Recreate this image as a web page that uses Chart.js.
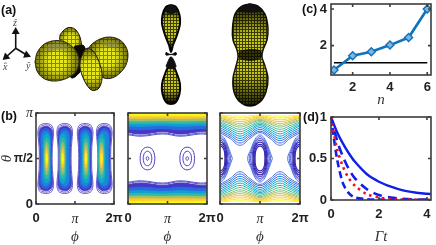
<!DOCTYPE html>
<html>
<head>
<meta charset="utf-8">
<script src="https://cdn.jsdelivr.net/npm/chart.js@4"></script>
<style>
  html, body { margin: 0; background: #fff; width: 436px; height: 245px; overflow: hidden; }
  canvas { position: absolute; }
  .tag { position: absolute; font: bold 12.5px 'Liberation Sans', sans-serif; color: #111; line-height: 14px; }
  .hat { position: absolute; font: italic 10px 'Liberation Serif', serif; color: #444; line-height: 12px; }
</style>
</head>
<body>
<canvas id="orbitals" width="300" height="108" style="left:0;top:0"></canvas>
<canvas id="contourA" width="125" height="140" style="left:0;top:105px"></canvas>
<canvas id="contourB" width="100" height="140" style="left:118px;top:105px"></canvas>
<canvas id="contourC" width="100" height="140" style="left:210px;top:105px"></canvas>
<canvas id="scaling" width="136" height="108" style="left:300px;top:0"></canvas>
<canvas id="decay" width="136" height="140" style="left:300px;top:105px"></canvas>
<div class="tag" style="left:1px;top:3px">(a)</div>
<div class="tag" style="left:1px;top:109px">(b)</div>
<div class="tag" style="left:302px;top:2px">(c)</div>
<div class="tag" style="left:303px;top:110px">(d)</div>
<div class="hat" style="left:13px;top:17px">ẑ</div>
<div class="hat" style="left:3px;top:61px">x̂</div>
<div class="hat" style="left:26px;top:60px">ŷ</div>
<script>
// (c) values
const nValues = [1, 2, 3, 4, 5, 6];
const ratioValues = [0.67, 1.45, 1.67, 2.03, 2.44, 4.0];
const refN = [1, 6];
const refValues = [1.07, 1.07];

// (d) values
const gammaT = [0, 0.25, 0.5, 0.75, 1, 1.5, 2, 2.5, 3, 3.5, 4, 4.2];
const decaySolid = [1, 0.82, 0.68, 0.56, 0.46, 0.31, 0.22, 0.16, 0.115, 0.09, 0.075, 0.07];
const decayDashed = [1, 0.72, 0.52, 0.37, 0.26, 0.13, 0.06, 0.03, 0.015, 0.008, 0.004, 0.003];
const decayFast = [1, 0.5, 0.2, 0.08, 0.03, 0.01, 0.004, 0.002, 0.001, 0, 0, 0];
const decayDotted = [1, 0.62, 0.4, 0.26, 0.17, 0.07, 0.03, 0.012, 0.006, 0.003, 0.001, 0];

// (b) left: phi and theta in units of pi, loops given as one quarter [halfwidth, dtheta]
const columnCentres = [0.25, 0.736, 1.26, 1.75];
const columnCores = [0.274, 0.685, 1.28, 1.68];
const columnLevels = [
  [[.165,0],[.17,.12],[.195,.24],[.2,.30],[.16,.36],[.08,.38],[0,.385]],
  [[.145,0],[.15,.12],[.175,.24],[.18,.29],[.14,.345],[.07,.365],[0,.37]],
  [[.135,0],[.14,.12],[.165,.24],[.165,.28],[.13,.33],[.06,.35],[0,.355]],
  [[.12,0],[.125,.12],[.14,.22],[.135,.27],[.1,.31],[.05,.325],[0,.33]],
  [[.1,0],[.105,.1],[.11,.2],[.1,.25],[.07,.285],[0,.3]],
  [[.085,0],[.085,.1],[.085,.18],[.07,.23],[.04,.26],[0,.27]],
  [[.07,0],[.065,.1],[.06,.16],[.045,.2],[0,.225]],
  [[.055,0],[.05,.08],[.04,.14],[.02,.17],[0,.18]],
  [[.04,0],[.033,.06],[.02,.11],[0,.14]],
  [[.027,0],[.02,.05],[0,.1]],
  [[.015,0],[.01,.03],[0,.06]]
];
const columnFills = ['#fff', '#fff', '#4438c4', '#2d5fe0', '#1a88d8', '#10a8c8', '#30b8a8', '#80bf78', '#d0bb58', '#fec832', '#f9fb0e'];
const columnLines = ['#5a50c8', '#5a50c8', '#4438c4', '#2d5fe0', '#1a88d8', '#10a8c8', '#30b8a8', '#80bf78', '#d0bb58', '#fec832', '#f9fb0e'];

// (b) middle: wavy bands and two small loops
const bandPhi = [0, 0.34, 0.89, 1.32, 1.83, 2];
const bandLevels = [
  [.76, .745, .77, .745, .77, .765],
  [.77, .755, .78, .755, .78, .775],
  [.785, .77, .795, .77, .795, .79],
  [.825, .815, .83, .815, .83, .825],
  [.86, .855, .865, .855, .865, .86],
  [.888, .885, .89, .885, .89, .888],
  [.915, .913, .917, .913, .917, .915],
  [.944, .943, .945, .943, .945, .944],
  [.97, .97, .97, .97, .97, .97]
];
const bandFills = ['#fff', '#fff', '#4438c4', '#2a6ae0', '#10a0d0', '#35b8a0', '#a8bf68', '#fec832', '#f9fb0e'];
const bandLines = ['#5a50c8', '#5a50c8', '#4438c4', '#2a6ae0', '#10a0d0', '#35b8a0', '#a8bf68', '#fec832', '#f9fb0e'];
const ringCentres = [0.494, 1.5];
const ringLevels = [
  [[.187,0],[.165,.065],[.1,.11],[0,.125]],
  [[.11,0],[.095,.04],[.055,.07],[0,.08]],
  [[.034,0],[.024,.014],[0,.02]]
];

// (b) right: arches read at three phi positions, and loops around the columns
const archPhi = [0, 0.25, 0.5, 0.75, 1, 1.25, 1.5, 1.75, 2];
const archTrough = [.965, .945, .925, .905, .885, .865, .845, .82, .795, .77, .745, .72, .695, .67, .645];
const archShoulder = [.97, .955, .94, .925, .91, .895, .88, .86, .84, .82, .80, .78, .76, .74, .72];
const archCrest = [.975, .97, .965, .955, .945, .93, .92, .905, .89, .875, .86, .84, .82, .80, .785];
const archColors = ['#f9fb0e', '#f9e81e', '#fed030', '#f0c440', '#d0bb58', '#a8bf68', '#80bf78', '#50bb90', '#30b8a8', '#15aec0', '#10a0d0', '#1a8cd8', '#2a78e0', '#3a68e4', '#4a70ea'];
const loopCentres = [0, 1, 2];
const loopLevels = [
  [[.125,0],[.11,.08],[.06,.125],[0,.135]],
  [[.145,0],[.13,.09],[.07,.145],[0,.155]],
  [[.17,0],[.15,.1],[.08,.165],[0,.18]],
  [[.2,0],[.17,.1],[.09,.18],[0,.2]],
  [[.235,0],[.19,.1],[.1,.19],[0,.22]],
  [[.27,0],[.21,.1],[.11,.2],[0,.24]],
  [[.31,0],[.23,.1],[.12,.215],[0,.26]]
];
const loopColors = ['#3a2cb0', '#3a2cb0', '#3a2cb0', '#4438c4', '#4a50d8', '#4a60e0', '#5078e8'];

// (a) lobes, back to front
const lobeBackTop = [[60,35],[63,31],[67,28],[71,27.5],[76,30],[80,37],[81.5,45],[81,53],[76,50],[66,44],[60,40],[60,35]];
const lobeRight = [[87,50],[92,44],[100,39],[110,37],[120,40],[126,47],[128,55],[126,65],[120,73],[112,78],[104,78],[96,72],[88,60],[87,50]];
const lobeShadow = [[75,46],[84,46],[86,62],[80,72],[72,78],[68,70],[75,46]];
const lobeLeft = [[35,62],[37,53],[43,45],[52,41],[62,41],[70,45],[76,51],[79,60],[77,70],[71,76],[62,80],[52,81],[43,78],[37,71],[35,62]];
const lobeFront = [[87,48],[83,53],[80,63],[81,72],[85,82],[90,89],[94,90.5],[99,88],[102,79],[101,68],[97,57],[92,50],[87,48]];
const spindleTop = [[171,5],[176,7],[179.5,15],[180,24],[177,35],[173,45],[171,52],[169,45],[165,35],[162,24],[162.5,15],[166,7],[171,5]];
const spindleBottom = [[171,57],[173,64],[177,74],[180,84],[179.5,94],[176,102],[171,104],[166,102],[162.5,94],[162,84],[165,74],[169,64],[171,57]];
const spindleTie = [[166,52.5],[171,54.5],[176,52.5],[176,55],[171,54.5],[166,55],[166,52.5]];
const peanut = [[250,4],[258,6],[265,14],[268,28],[267,40],[263,50],[262,57],[265,66],[268,78],[266,92],[260,102],[250,106],[240,102],[234,92],[233,78],[236,66],[238,57],[237,50],[233,40],[232.5,28],[235,14],[242,6],[250,4]];
const peanutWaist = [[239,51],[250,49],[261,51],[261,58],[250,61],[239,58],[239,51]];
const peanutCap = [[238,11],[250,4],[262,11],[255,12],[245,12],[238,11]];
const spindleCapTop = [[165,10],[171,5],[177,10],[174,13],[168,13],[165,10]];
const spindleCapBottom = [[166,66],[171,57],[176,66],[174,68],[168,68],[166,66]];
const greyPatches = [
  [[44,48],[52,44],[62,44],[68,48],[58,50],[48,51],[44,48]],
  [[100,44],[110,41],[118,43],[118,47],[108,47],[100,44]]
];
const triadCentre = [15.7, 48.3];
const triadTips = [[15.7, 31.7], [6, 57], [26.7, 55]];
const triadTurns = [0, 228, 112];

const xTicksPhi = [0, 1, 2];
const phiLabels = ['0', 'π', '2π'];
const yTicksTheta = [0, 0.5, 1];
const thetaLabels = ['0', 'π/2', 'π'];
const xTicksN = [2, 4, 6];
const yTicksRatio = [2, 4];
const xTicksT = [0, 2, 4];
const yTicksDecay = [0, 0.5, 1];

const sansBold = { family: "'Liberation Sans', sans-serif", size: 13, weight: 'bold' };
const sansSmall = { family: "'Liberation Sans', sans-serif", size: 12, weight: 'bold' };
const piFont = { family: "'Liberation Serif', serif", size: 14, style: 'italic', weight: 'normal' };
const titleFont = { family: "'Liberation Serif', serif", size: 15, style: 'italic', lineHeight: 1 };

Chart.defaults.animation = false;
Chart.defaults.elements.point.radius = 0;

const frame = {
  id: 'frame',
  afterDatasetsDraw(chart) {
    const { ctx, chartArea: a, scales } = chart;
    if (!scales.x.options.display) return;
    ctx.save();
    ctx.strokeStyle = '#3c3c3c';
    ctx.lineWidth = 1.6;
    ctx.strokeRect(a.left, a.top, a.width, a.height);
    ctx.beginPath();
    scales.x.ticks.forEach(t => {
      const px = scales.x.getPixelForValue(t.value);
      ctx.moveTo(px, a.bottom); ctx.lineTo(px, a.bottom - 3);
      ctx.moveTo(px, a.top); ctx.lineTo(px, a.top + 3);
    });
    scales.y.ticks.forEach(t => {
      const py = scales.y.getPixelForValue(t.value);
      ctx.moveTo(a.left, py); ctx.lineTo(a.left + 3, py);
      ctx.moveTo(a.right, py); ctx.lineTo(a.right - 3, py);
    });
    ctx.stroke();
    ctx.restore();
  }
};
Chart.register(frame);

function quarterLoop(cx, cy, quarter) {
  const pts = quarter.map(([w, d]) => ({ x: cx + w, y: cy + d }));
  const back = quarter.slice(0, -1).reverse().map(([w, d]) => ({ x: cx - w, y: cy + d }));
  const low = quarter.slice(1).map(([w, d]) => ({ x: cx - w, y: cy - d }));
  const up = quarter.slice(1, -1).reverse().map(([w, d]) => ({ x: cx + w, y: cy - d }));
  return [...pts, ...back, ...low, ...up, pts[0]];
}

function tickFont(labels) {
  return c => {
    if (!c.tick) return sansBold;
    if (labels === thetaLabels && c.tick.value === 0.5) return sansSmall;
    if ((labels === phiLabels || labels === thetaLabels) && c.tick.value === 1) return piFont;
    return sansBold;
  };
}

function axis(ticks, labels, size, pad, title, extra) {
  return Object.assign({
    type: 'linear',
    grid: { display: false, drawTicks: false },
    border: { display: false },
    title: title ? { display: true, text: title, font: titleFont, color: '#333', padding: 0 } : { display: false },
    afterBuildTicks: s => { s.ticks = ticks.map(v => ({ value: v })); },
    afterFit: s => {
      if (s.isHorizontal()) s.height = size; else s.width = size;
      s.paddingLeft = s.paddingRight = s.paddingTop = s.paddingBottom = 0;
    },
    ticks: {
      autoSkip: false,
      maxRotation: 0,
      padding: pad,
      color: '#222',
      callback: v => labels[ticks.indexOf(v)],
      font: tickFont(labels)
    }
  }, extra);
}

function panelOptions(padding, x, y) {
  return {
    responsive: false,
    layout: { padding, autoPadding: false },
    plugins: { legend: { display: false }, tooltip: { enabled: false }, filler: { drawTime: 'beforeDatasetDraw', propagate: false } },
    scales: { x, y }
  };
}

function shape(data, fill, line, width) {
  return { data, fill: 'shape', backgroundColor: fill, borderColor: line, borderWidth: width, tension: 0.35, showLine: true };
}

// (b) left
const columnSets = [];
columnCentres.forEach((cx, c) => {
  columnLevels.forEach((q, i) => {
    columnSets.push(shape(quarterLoop(i < 5 ? cx : columnCores[c], 0.5, q), columnFills[i], columnLines[i], 0.9));
  });
});
new Chart(document.getElementById('contourA'), {
  type: 'scatter',
  data: { datasets: columnSets.reverse() },
  options: panelOptions({ top: 8, right: 11 },
    axis(xTicksPhi, phiLabels, 41, 7, 'ϕ', { min: 0, max: 2 }),
    axis(yTicksTheta, thetaLabels, 36, 3, 'θ', { min: 0, max: 1 }))
});

// (b) middle
const bandSets = [];
bandLevels.forEach((lvl, i) => {
  const up = bandPhi.map((p, j) => ({ x: p, y: lvl[j] }));
  const down = bandPhi.map((p, j) => ({ x: p, y: 1 - lvl[j] }));
  [[up, 'end'], [down, 'start']].forEach(([data, fill]) => {
    bandSets.push({ data, fill, backgroundColor: bandFills[i], borderColor: bandLines[i], borderWidth: 1, tension: 0.4, showLine: true });
  });
});
ringCentres.forEach(cx => ringLevels.forEach(q => {
  bandSets.push({ data: quarterLoop(cx, 0.5, q), borderColor: '#4a40c0', borderWidth: 1, tension: 0.35, showLine: true });
}));
new Chart(document.getElementById('contourB'), {
  type: 'scatter',
  data: { datasets: bandSets.reverse() },
  options: panelOptions({ top: 8, right: 11 },
    axis(xTicksPhi, phiLabels, 41, 7, 'ϕ', { min: 0, max: 2 }),
    axis(yTicksTheta, thetaLabels, 10, 4, null, { min: 0, max: 1, ticks: { display: false } }))
});

// (b) right
const archSets = [];
archColors.forEach((color, i) => {
  const vals = [archCrest[i], archShoulder[i], archTrough[i], archShoulder[i], archCrest[i], archShoulder[i], archTrough[i], archShoulder[i], archCrest[i]];
  archSets.push({ data: archPhi.map((p, j) => ({ x: p, y: vals[j] })), borderColor: color, borderWidth: 1, tension: 0.4, showLine: true });
  archSets.push({ data: archPhi.map((p, j) => ({ x: p, y: 1 - vals[j] })), borderColor: color, borderWidth: 1, tension: 0.4, showLine: true });
});
loopCentres.forEach(cx => loopLevels.forEach((q, i) => {
  archSets.push({ data: quarterLoop(cx, 0.5, q), borderColor: loopColors[i], borderWidth: i < 3 ? 1.3 : 1, tension: 0.35, showLine: true });
}));
new Chart(document.getElementById('contourC'), {
  type: 'scatter',
  data: { datasets: archSets },
  options: panelOptions({ top: 8, right: 10 },
    axis(xTicksPhi, phiLabels, 41, 7, 'ϕ', { min: 0, max: 2 }),
    axis(yTicksTheta, thetaLabels, 10, 4, null, { min: 0, max: 1, ticks: { display: false } }))
});

// (c)
new Chart(document.getElementById('scaling'), {
  type: 'scatter',
  data: {
    datasets: [
      { data: nValues.map((n, i) => ({ x: n, y: ratioValues[i] })), showLine: true, borderColor: '#0f72bd', borderWidth: 2.6, pointStyle: 'rectRot', pointRadius: 4, pointBorderColor: '#0f72bd', pointBorderWidth: 1.4, pointBackgroundColor: '#7fb4dc' },
      { data: refN.map((n, i) => ({ x: n, y: refValues[i] })), showLine: true, borderColor: '#000', borderWidth: 1.5 }
    ]
  },
  options: panelOptions({ top: 4, right: 5 },
    axis(xTicksN, ['2', '4', '6'], 33, 5, 'n', { min: 0.84, max: 6.2 }),
    axis(yTicksRatio, ['2', '4'], 31, 4, null, { min: 0.4, max: 4.27 }))
});

// (d)
const toPoints = vals => gammaT.map((t, i) => ({ x: t, y: vals[i] }));
new Chart(document.getElementById('decay'), {
  type: 'scatter',
  data: {
    datasets: [
      { data: toPoints(decayDotted), showLine: true, borderColor: '#f01020', borderWidth: 2.6, borderDash: [2.5, 4], tension: 0.3 },
      { data: toPoints(decayFast), showLine: true, borderColor: '#1020e8', borderWidth: 2.6, borderDash: [7, 4], tension: 0.3 },
      { data: toPoints(decayDashed), showLine: true, borderColor: '#1020e8', borderWidth: 2.6, borderDash: [9, 6], tension: 0.3 },
      { data: toPoints(decaySolid), showLine: true, borderColor: '#1020e8', borderWidth: 2.4, tension: 0.3 }
    ]
  },
  options: panelOptions({ top: 12, right: 5 },
    axis(xTicksT, ['0', '2', '4'], 45, 7, 'Γt', { min: 0, max: 4.17 }),
    axis(yTicksDecay, ['0', '0.5', '1'], 31, 4, null, { min: 0, max: 1 }))
});

// (a)
function meshTile(size, base, mesh) {
  const tile = document.createElement('canvas');
  tile.width = tile.height = size;
  const c = tile.getContext('2d');
  c.fillStyle = base;
  c.fillRect(0, 0, size, size);
  c.fillStyle = mesh;
  c.fillRect(0, size - 1, size, 1);
  c.fillRect(size - 1, 0, 1, size);
  return c.createPattern(tile, 'repeat');
}
const openMesh = meshTile(4, '#e6e61c', '#84840f');
const tightMesh = meshTile(3, '#c8c810', '#3e3e06');

// dark towards the rim of the outline, clear in the middle
function rimShade(strength) {
  return c => {
    const { x, y } = c.chart.scales;
    const xs = c.dataset.data.map(p => x.getPixelForValue(p.x));
    const ys = c.dataset.data.map(p => y.getPixelForValue(p.y));
    const mx = (Math.min(...xs) + Math.max(...xs)) / 2;
    const my = (Math.min(...ys) + Math.max(...ys)) / 2;
    const r = Math.max(Math.max(...xs) - Math.min(...xs), Math.max(...ys) - Math.min(...ys)) / 2;
    if (![mx, my, r].every(Number.isFinite)) return 'rgba(0,0,0,0)';
    const g = c.chart.ctx.createRadialGradient(mx, my, r * 0.4, mx, my, r);
    g.addColorStop(0, 'rgba(0,0,0,0)');
    g.addColorStop(1, `rgba(0,0,0,${strength})`);
    return g;
  };
}
const tiny = p => p.map(([x, y]) => ({ x, y }));
const lobe = (pts, mesh, line, width, strength) => [
  shape(tiny(pts), mesh, line, width),
  shape(tiny(pts), rimShade(strength), 'rgba(0,0,0,0)', 0)
];

const lobeSets = [
  ...lobe(lobeBackTop, openMesh, '#222', 1, 0.5),
  ...lobe(lobeRight, openMesh, '#333', 1, 0.5),
  shape(tiny(lobeShadow), '#0a0a00', '#0a0a00', 1),
  ...lobe(lobeLeft, openMesh, '#333', 1, 0.5),
  ...lobe(lobeFront, openMesh, '#222', 1, 0.55),
  ...greyPatches.map(p => shape(tiny(p), 'rgba(130,130,110,.55)', 'rgba(0,0,0,0)', 0)),
  ...lobe(spindleTop, tightMesh, '#050505', 2, 1),
  ...lobe(spindleBottom, tightMesh, '#050505', 2, 1),
  shape(tiny(spindleCapTop), '#111', '#111', 1),
  shape(tiny(spindleCapBottom), '#111', '#111', 1),
  shape(tiny(spindleTie), '#050505', '#050505', 1),
  ...lobe(peanut, tightMesh, '#101010', 1.4, 0.85),
  shape(tiny(peanutCap), '#111', '#111', 1),
  shape(tiny(peanutWaist), 'rgba(5,5,0,.75)', 'rgba(0,0,0,0)', 0)
];
triadTips.forEach((tip, i) => {
  lobeSets.push({
    data: tiny([triadCentre, tip]), showLine: true, borderColor: '#111', borderWidth: 1.6,
    pointStyle: 'triangle', pointRadius: [0, 3], rotation: [0, triadTurns[i]], pointBackgroundColor: '#111', pointBorderColor: '#111'
  });
});
new Chart(document.getElementById('orbitals'), {
  type: 'scatter',
  data: { datasets: lobeSets.reverse() },
  options: panelOptions(0,
    { type: 'linear', display: false, min: 0, max: 300 },
    { type: 'linear', display: false, min: 0, max: 108, reverse: true })
});
</script>
</body>
</html>
